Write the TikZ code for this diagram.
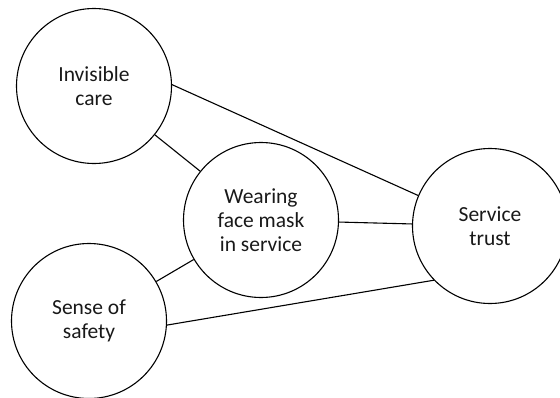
\documentclass[tikz,border=0pt]{standalone}
\usepackage{fontspec}
\setmainfont{Carlito}
\begin{document}
\begin{tikzpicture}[x=1pt,y=-1pt,
  concept/.style={circle,draw=black,line width=1.1pt,minimum size=155pt,inner sep=0pt,
    align=center,font=\fontsize{21.5}{24}\selectfont,text=black!90},
  link/.style={draw=black,line width=1.1pt}]
\useasboundingbox (0,0) rectangle (560,397);
\node[concept] (care) at (94,86) {Invisible\\care};
\node[concept] (mask) at (261,220) {Wearing\\face mask\\in service};
\node[concept] (trust) at (490,226) {Service\\trust};
\node[concept] (safety) at (89,321) {Sense of\\safety};
\draw[link] (care.1.5) -- (trust.157.5);
\draw[link] (care) -- (mask);
\draw[link] (mask) -- (trust);
\draw[link] (safety) -- (mask);
\draw[link] (safety.-3) -- (trust.224);
\end{tikzpicture}
\end{document}
